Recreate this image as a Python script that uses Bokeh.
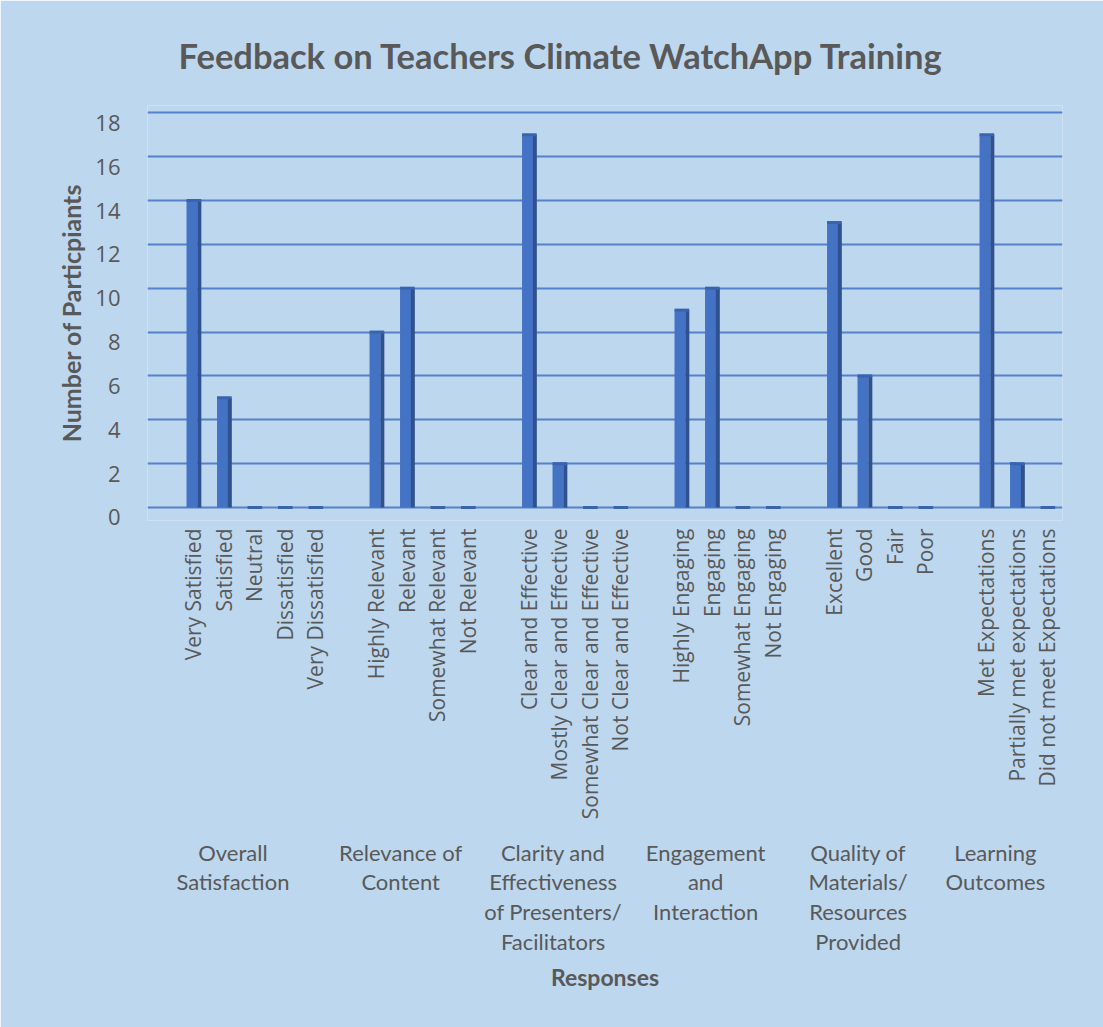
from math import pi
from bokeh.plotting import figure
from bokeh.models import Range1d, LinearAxis, FixedTicker, ColumnDataSource
from bokeh.transform import dodge
from bokeh.embed import file_html
from bokeh.resources import INLINE

# ---------------- data ----------------
groups = [
    "Overall\nSatisfaction",
    "Relevance of\nContent",
    "Clarity and\nEffectiveness\nof Presenters/\nFacilitators",
    "Engagement\nand\nInteraction",
    "Quality of\nMaterials/\nResources\nProvided",
    "Learning\nOutcomes",
]
overall_labels = ["Very Satisfied", "Satisfied", "Neutral", "Dissatisfied", "Very Dissatisfied"]
overall_values = [14, 5, 0, 0, 0]
relevance_labels = ["Highly Relevant", "Relevant", "Somewhat Relevant", "Not Relevant"]
relevance_values = [8, 10, 0, 0]
clarity_labels = ["Clear and Effective", "Mostly Clear and Effective", "Somewhat Clear and Effective", "Not Clear and Effective"]
clarity_values = [17, 2, 0, 0]
engagement_labels = ["Highly Engaging", "Engaging", "Somewhat Engaging", "Not Engaging"]
engagement_values = [9, 10, 0, 0]
quality_labels = ["Excellent", "Good", "Fair", "Poor"]
quality_values = [13, 6, 0, 0]
learning_labels = ["Met Expectations", "Partially met expectations", "Did not meet Expectations"]
learning_values = [17, 2, 0]
y_ticks = [0, 2, 4, 6, 8, 10, 12, 14, 16, 18]

title_text = "Feedback on Teachers Climate WatchApp Training"
x_title = "Responses"
y_title = "Number of Particpiants"

all_labels = [overall_labels, relevance_labels, clarity_labels, engagement_labels, quality_labels, learning_labels]
all_values = [overall_values, relevance_values, clarity_values, engagement_values, quality_values, learning_values]

# category slots: each group starts with an empty slot (as in the original sheet)
slot = 0
bar_pos, bar_lab, bar_v = [], [], []
group_centers = []
for labs, vals in zip(all_labels, all_values):
    start = slot
    slot += 1  # empty leading slot
    for lab, v in zip(labs, vals):
        bar_pos.append(slot + 0.5)
        bar_lab.append(lab)
        bar_v.append(v)
        slot += 1
    group_centers.append((start + slot) / 2)
n_slots = slot

src = ColumnDataSource(dict(x=bar_pos, v=bar_v))

BG = "#BDD7EE"
TXT = "#595959"

p = figure(
    x_range=Range1d(0, n_slots),
    y_range=Range1d(-0.593, 18.33),
    width=1103, height=1027,
    output_backend="svg", toolbar_location=None,
    min_border_left=147, min_border_right=41, min_border_top=105, min_border_bottom=507,
    background_fill_color=BG, border_fill_color=BG, outline_line_color=None,
)

p.title.text = title_text
p.title.align = "left"
p.title.offset = 31
p.title.text_font = "Lato"
p.title.text_font_size = "34.5px"
p.title.text_font_style = "bold"
p.title.text_color = TXT
p.title.standoff = 60

# gridlines
p.xgrid.visible = False
p.ygrid.ticker = FixedTicker(ticks=y_ticks)
p.ygrid.grid_line_color = "#4472C4"
p.ygrid.grid_line_width = 2
p.ygrid.grid_line_alpha = 0.85
p.yaxis.visible = False

# label axis (offset to mimic 3D perspective)
p.extra_y_ranges = {"lab": Range1d(-0.137, 18.79)}
yax = LinearAxis(y_range_name="lab", ticker=FixedTicker(ticks=y_ticks))
yax.axis_line_color = None
yax.major_tick_line_color = None
yax.minor_tick_line_color = None
yax.major_label_text_font = "Open Sans"
yax.major_label_text_font_size = "22px"
yax.major_label_text_color = TXT
yax.major_label_standoff = 21
yax.axis_label = y_title
yax.axis_label_text_font = "Lato"
yax.axis_label_text_font_size = "25px"
yax.axis_label_text_font_style = "bold"
yax.axis_label_text_color = TXT
yax.axis_label_standoff = 6
p.add_layout(yax, "left")

# x axis: response labels
xa = p.xaxis[0]
xa.ticker = FixedTicker(ticks=bar_pos)
xa.major_label_overrides = {x: lab for x, lab in zip(bar_pos, bar_lab)}
xa.axis_line_color = None
xa.major_tick_line_color = None
xa.minor_tick_line_color = None
xa.major_label_orientation = pi / 2
xa.major_label_text_font = "Open Sans"
xa.major_label_text_font_size = "21px"
xa.major_label_text_color = TXT
xa.major_label_standoff = 2

# second axis with the question groups
p.extra_x_ranges = {"grp": Range1d(0.2, n_slots + 0.2)}
gax = LinearAxis(x_range_name="grp", ticker=FixedTicker(ticks=group_centers),
                 major_label_overrides={c: g for c, g in zip(group_centers, groups)})
gax.axis_line_color = None
gax.major_tick_line_color = None
gax.minor_tick_line_color = None
gax.major_label_standoff = 10
gax.major_label_text_font = "Lato"
gax.major_label_text_font_size = "22px"
gax.major_label_text_color = TXT
gax.major_label_text_line_height = 1.1
gax.axis_label = x_title
gax.axis_label_text_font = "Lato"
gax.axis_label_text_font_size = "23px"
gax.axis_label_text_font_style = "bold"
gax.axis_label_text_color = TXT
gax.axis_label_standoff = 5
p.add_layout(gax, "below")

# bars (front face, side face, top cap)
p.vbar(x=dodge("x", -0.04), top="v", bottom=0, width=0.36, source=src,
       fill_color="#4472C4", line_color=None)
p.vbar(x=dodge("x", 0.2), top="v", bottom=0, width=0.13, source=src,
       fill_color="#2F528F", line_color=None)
p.segment(x0=dodge("x", -0.22), x1=dodge("x", 0.26),
          y0="v", y1="v", source=src, line_color="#3A63AE", line_width=3)

open("out.html", "w").write(file_html(p, INLINE))
